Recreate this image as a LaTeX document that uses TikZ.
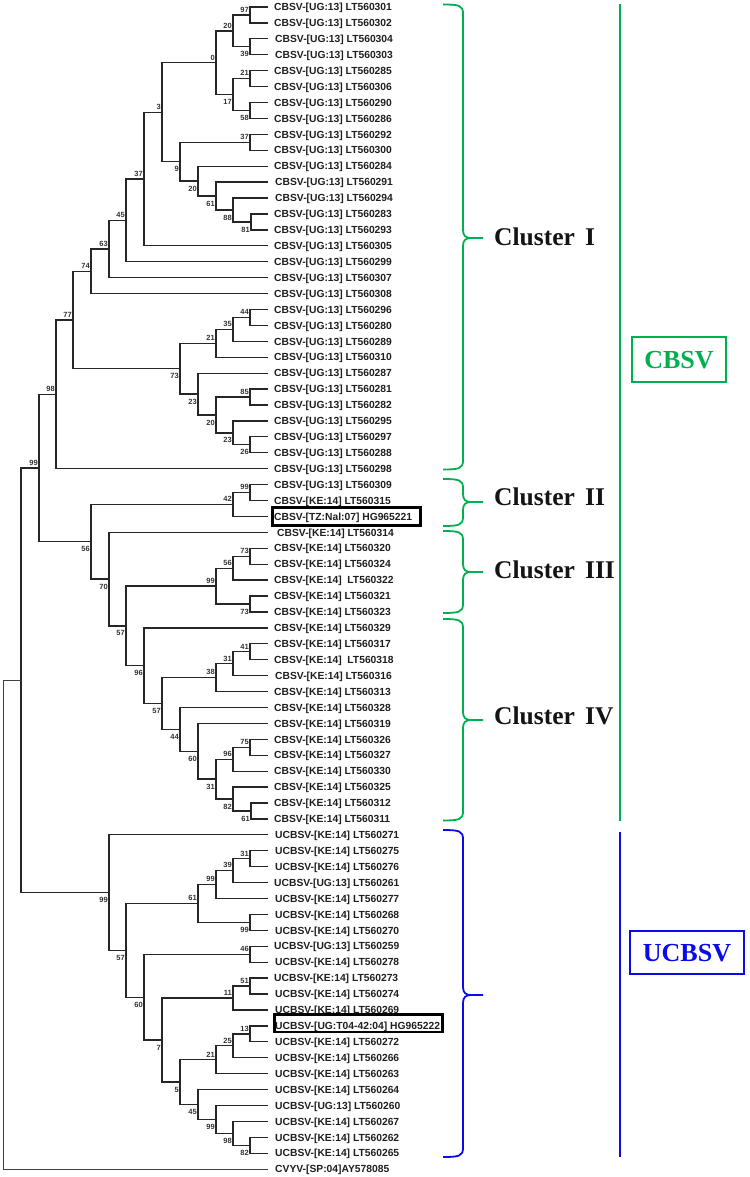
\documentclass[tikz,border=0pt]{standalone}
\usepackage{fontspec}
\setmainfont{Liberation Sans}
\newfontfamily\serifb{Liberation Serif}
\usetikzlibrary{calc}
\definecolor{cgreen}{HTML}{00B050}
\definecolor{cblue}{HTML}{0A0AEB}
\definecolor{treec}{HTML}{262626}
\newcommand{\leaf}[3][274]{%
  \coordinate (L#2) at (268,{7+(#2-1)*15.92});
  \node[lab] (T#2) at (#1,{7+(#2-1)*15.92}) {#3};}
\newcommand{\clade}[6]{%
  \path let \p1=(#3), \p2=(#4) in coordinate (#1) at (#2pt,{(\y1+\y2)/2});
  \draw[br] (#3) -| (#1 |- #4) -- (#4);
  \node[bs,#6] (b#1) at (#1) {#5};}
\newcommand{\cbrace}[4]{%
  \draw[#1, brc] (443,#2) .. controls (459,#2) and (463,{#2+1}) .. (463,{#2+9})
    -- (463,{#3-8}) .. controls (463,{#3-2}) and (466,#3) .. (471,#3) -- (483,#3);
  \draw[#1, brc] (471,#3) .. controls (466,#3) and (463,{#3+2}) .. (463,{#3+8})
    -- (463,{#4-9}) .. controls (463,{#4-1}) and (459,#4) .. (443,#4);}
\begin{document}
\begin{tikzpicture}[x=1pt,y=-1pt,
  br/.style={draw=treec,line width=1.3pt},
  rootbr/.style={draw=black!75,line width=1pt},
  brc/.style={line width=1.8pt},
  lab/.style={anchor=west,inner sep=0pt,font=\fontsize{10.3}{12}\selectfont\bfseries,text=black!88,text height=7.4pt,text depth=0pt},
  bs/.style={inner sep=0pt,font=\fontsize{7.5}{8}\selectfont\bfseries,text=black!80,text height=5.4pt,text depth=0pt},
  bsa/.style={anchor=south east,xshift=-1pt,yshift=2.5pt},
  bsb/.style={anchor=north east,xshift=-1pt,yshift=-4.5pt},
  hbox/.style={draw=black,line width=2.6pt},
  cl/.style={anchor=west,inner sep=0pt,font=\serifb\bfseries\fontsize{25.5}{30}\selectfont,text=black!92,text height=17pt,text depth=0pt},
  vbox/.style={line width=2pt,inner sep=0pt,font=\serifb\bfseries\fontsize{26}{30}\selectfont,text height=17.2pt,text depth=0pt}]
\useasboundingbox (0,0) rectangle (749,1177);
% leaves
\leaf{1}{CBSV-[UG:13] LT560301}
\leaf{2}{CBSV-[UG:13] LT560302}
\leaf[275]{3}{CBSV-[UG:13] LT560304}
\leaf[275]{4}{CBSV-[UG:13] LT560303}
\leaf{5}{CBSV-[UG:13] LT560285}
\leaf{6}{CBSV-[UG:13] LT560306}
\leaf{7}{CBSV-[UG:13] LT560290}
\leaf{8}{CBSV-[UG:13] LT560286}
\leaf{9}{CBSV-[UG:13] LT560292}
\leaf{10}{CBSV-[UG:13] LT560300}
\leaf{11}{CBSV-[UG:13] LT560284}
\leaf[275]{12}{CBSV-[UG:13] LT560291}
\leaf[275]{13}{CBSV-[UG:13] LT560294}
\leaf{14}{CBSV-[UG:13] LT560283}
\leaf{15}{CBSV-[UG:13] LT560293}
\leaf{16}{CBSV-[UG:13] LT560305}
\leaf{17}{CBSV-[UG:13] LT560299}
\leaf{18}{CBSV-[UG:13] LT560307}
\leaf{19}{CBSV-[UG:13] LT560308}
\leaf{20}{CBSV-[UG:13] LT560296}
\leaf{21}{CBSV-[UG:13] LT560280}
\leaf{22}{CBSV-[UG:13] LT560289}
\leaf{23}{CBSV-[UG:13] LT560310}
\leaf{24}{CBSV-[UG:13] LT560287}
\leaf{25}{CBSV-[UG:13] LT560281}
\leaf{26}{CBSV-[UG:13] LT560282}
\leaf{27}{CBSV-[UG:13] LT560295}
\leaf{28}{CBSV-[UG:13] LT560297}
\leaf{29}{CBSV-[UG:13] LT560288}
\leaf{30}{CBSV-[UG:13] LT560298}
\leaf{31}{CBSV-[UG:13] LT560309}
\leaf{32}{CBSV-[KE:14] LT560315}
\leaf{33}{CBSV-[TZ:Nal:07] HG965221}
\leaf[277]{34}{CBSV-[KE:14] LT560314}
\leaf{35}{CBSV-[KE:14] LT560320}
\leaf{36}{CBSV-[KE:14] LT560324}
\leaf{37}{CBSV-[KE:14]\ \ LT560322}
\leaf{38}{CBSV-[KE:14] LT560321}
\leaf{39}{CBSV-[KE:14] LT560323}
\leaf{40}{CBSV-[KE:14] LT560329}
\leaf{41}{CBSV-[KE:14] LT560317}
\leaf{42}{CBSV-[KE:14]\ \ LT560318}
\leaf[275]{43}{CBSV-[KE:14] LT560316}
\leaf{44}{CBSV-[KE:14] LT560313}
\leaf{45}{CBSV-[KE:14] LT560328}
\leaf{46}{CBSV-[KE:14] LT560319}
\leaf{47}{CBSV-[KE:14] LT560326}
\leaf{48}{CBSV-[KE:14] LT560327}
\leaf{49}{CBSV-[KE:14] LT560330}
\leaf{50}{CBSV-[KE:14] LT560325}
\leaf{51}{CBSV-[KE:14] LT560312}
\leaf{52}{CBSV-[KE:14] LT560311}
\leaf[275]{53}{UCBSV-[KE:14] LT560271}
\leaf[275]{54}{UCBSV-[KE:14] LT560275}
\leaf[275]{55}{UCBSV-[KE:14] LT560276}
\leaf{56}{UCBSV-[UG:13] LT560261}
\leaf[275]{57}{UCBSV-[KE:14] LT560277}
\leaf[275]{58}{UCBSV-[KE:14] LT560268}
\leaf[275]{59}{UCBSV-[KE:14] LT560270}
\leaf{60}{UCBSV-[UG:13] LT560259}
\leaf[275]{61}{UCBSV-[KE:14] LT560278}
\leaf{62}{UCBSV-[KE:14] LT560273}
\leaf[275]{63}{UCBSV-[KE:14] LT560274}
\leaf[275]{64}{UCBSV-[KE:14] LT560269}
\leaf[275]{65}{UCBSV-[UG:T04-42:04] HG965222}
\leaf[275]{66}{UCBSV-[KE:14] LT560272}
\leaf[275]{67}{UCBSV-[KE:14] LT560266}
\leaf[275]{68}{UCBSV-[KE:14] LT560263}
\leaf[275]{69}{UCBSV-[KE:14] LT560264}
\leaf[275]{70}{UCBSV-[UG:13] LT560260}
\leaf[275]{71}{UCBSV-[KE:14] LT560267}
\leaf[275]{72}{UCBSV-[KE:14] LT560262}
\leaf[275]{73}{UCBSV-[KE:14] LT560265}
\leaf[275]{74}{CVYV-[SP:04]AY578085}
% boxes around reference isolates
\draw[hbox] (272.3,507.3) rectangle (420.7,525.2);
\draw[hbox] (274.3,1014.6) rectangle (442.7,1032);
% CBSV clades
\clade{a97}{250}{L1}{L2}{97}{bsa}
\clade{a39}{250}{L3}{L4}{39}{bsb}
\clade{a20}{233}{a97}{a39}{20}{bsa}
\clade{a21}{250}{L5}{L6}{21}{bsa}
\clade{a58}{250}{L7}{L8}{58}{bsb}
\clade{a17}{233}{a21}{a58}{17}{bsb}
\clade{a0}{216}{a20}{a17}{0}{bsa}
\clade{a37}{250}{L9}{L10}{37}{bsa}
\clade{a81}{251}{L14}{L15}{81}{bsb}
\clade{a88}{233}{L13}{a81}{88}{bsb}
\clade{a61}{216}{L12}{a88}{61}{bsb}
\clade{a20b}{198}{L11}{a61}{20}{bsb}
\clade{a9}{180}{a37}{a20b}{9}{bsb}
\clade{a3}{162}{a0}{a9}{3}{bsa}
\clade{a37b}{144}{a3}{L16}{37}{bsa}
\clade{a45}{126}{a37b}{L17}{45}{bsa}
\clade{a63}{109}{a45}{L18}{63}{bsa}
\clade{a74}{91}{a63}{L19}{74}{bsa}
\clade{a44}{250}{L20}{L21}{44}{bsa}
\clade{a35}{233}{a44}{L22}{35}{bsa}
\clade{a21b}{216}{a35}{L23}{21}{bsa}
\clade{a85}{250}{L25}{L26}{85}{bsa}
\clade{a26}{250}{L28}{L29}{26}{bsb}
\clade{a23a}{233}{L27}{a26}{23}{bsb}
\clade{a20c}{216}{a85}{a23a}{20}{bsb}
\clade{a23b}{198}{L24}{a20c}{23}{bsb}
\clade{a73}{180}{a21b}{a23b}{73}{bsb}
\clade{a77}{73}{a74}{a73}{77}{bsa}
\clade{a98}{56}{a77}{L30}{98}{bsa}
\clade{b99}{250}{L31}{L32}{99}{bsa}
\clade{b42}{233}{b99}{L33}{42}{bsa}
\clade{c73}{250}{L35}{L36}{73}{bsa}
\clade{c56}{233}{c73}{L37}{56}{bsa}
\clade{c73b}{250}{L38}{L39}{73}{bsb}
\clade{c99}{216}{c56}{c73b}{99}{bsa}
\clade{d41}{250}{L41}{L42}{41}{bsa}
\clade{d31}{233}{d41}{L43}{31}{bsa}
\clade{d38}{216}{d31}{L44}{38}{bsa}
\clade{d75}{250}{L47}{L48}{75}{bsa}
\clade{d96}{233}{d75}{L49}{96}{bsa}
\clade{d61}{251}{L51}{L52}{61}{bsb}
\clade{d82}{233}{L50}{d61}{82}{bsb}
\clade{d31b}{216}{d96}{d82}{31}{bsb}
\clade{d60}{198}{L46}{d31b}{60}{bsb}
\clade{d44}{180}{L45}{d60}{44}{bsb}
\clade{d57}{162}{d38}{d44}{57}{bsb}
\clade{d96b}{144}{L40}{d57}{96}{bsb}
\clade{c57}{126}{c99}{d96b}{57}{bsb}
\clade{c70}{109}{L34}{c57}{70}{bsb}
\clade{c56b}{91}{b42}{c70}{56}{bsb}
\clade{r99}{39}{a98}{c56b}{99}{bsa}
% UCBSV clades
\clade{u31}{250}{L54}{L55}{31}{bsa}
\clade{u39}{233}{u31}{L56}{39}{bsa}
\clade{u99a}{216}{u39}{L57}{99}{bsa}
\clade{u99b}{250}{L58}{L59}{99}{bsb}
\clade{u61}{198}{u99a}{u99b}{61}{bsa}
\clade{u46}{250}{L60}{L61}{46}{bsa}
\clade{u51}{250}{L62}{L63}{51}{bsa}
\clade{u11}{233}{u51}{L64}{11}{bsa}
\clade{u13}{250}{L65}{L66}{13}{bsa}
\clade{u25}{233}{u13}{L67}{25}{bsa}
\clade{u21}{216}{u25}{L68}{21}{bsa}
\clade{u82}{250}{L72}{L73}{82}{bsb}
\clade{u98}{233}{L71}{u82}{98}{bsb}
\clade{u99c}{216}{L70}{u98}{99}{bsb}
\clade{u45}{198}{L69}{u99c}{45}{bsb}
\clade{u5}{180}{u21}{u45}{5}{bsb}
\clade{u7}{162}{u11}{u5}{7}{bsb}
\clade{u60}{144}{u46}{u7}{60}{bsb}
\clade{u57}{126}{u61}{u60}{57}{bsb}
\clade{u99}{109}{L53}{u57}{99}{bsb}
% deep nodes and root
\path let \p1=(r99), \p2=(u99) in coordinate (nA) at (21pt,{(\y1+\y2)/2});
\draw[br] (r99) -| (nA |- u99) -- (u99);
\path let \p1=(nA) in coordinate (R) at (3pt,\y1);
\draw[rootbr] (nA) -- (R) |- (L74);
% cluster braces
\cbrace{cgreen}{4.5}{238}{469.5}
\cbrace{cgreen}{479}{502}{526}
\cbrace{cgreen}{531}{572}{613}
\cbrace{cgreen}{619}{720}{820.5}
\cbrace{cblue}{830}{995}{1157}
\node[cl] (cI) at (494,237) {Cluster\hspace{0.4em}I};
\node[cl] (cII) at (494,497) {Cluster\hspace{0.4em}II};
\node[cl] (cIII) at (494,570) {Cluster\hspace{0.4em}III};
\node[cl] (cIV) at (494,716) {Cluster\hspace{0.4em}IV};
% species bars
\draw[cgreen,line width=2pt] (619.5,4) -- (619.5,821);
\draw[cblue,line width=2pt] (620,832) -- (620,1157);
\node[vbox,draw=cgreen,text=cgreen,minimum width=94pt,minimum height=45pt] (cbsv) at (679,359.5) {CBSV};
\node[vbox,draw=cblue,text=cblue,minimum width=114pt,minimum height=43pt] (ucbsv) at (687,952.5) {UCBSV};
\end{tikzpicture}
\end{document}
